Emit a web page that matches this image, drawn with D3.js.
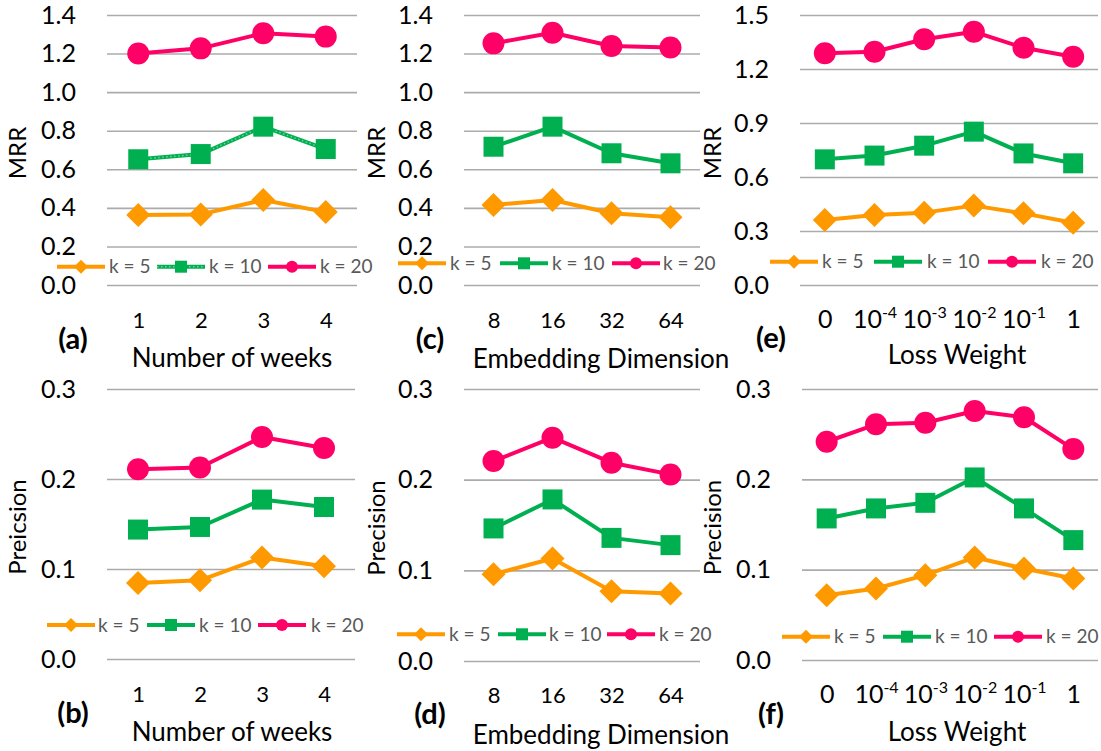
<!DOCTYPE html>
<html>
<head>
<meta charset="utf-8">
<script src="https://cdn.jsdelivr.net/npm/d3@7"></script>
<style>
  html, body { margin: 0; padding: 0; background: #ffffff; }
  svg { display: block; }
  text { font-family: Lato, "Open Sans", sans-serif; }
</style>
</head>
<body>
<svg id="chart" width="1101" height="751"></svg>
<script>
// ---------------- DATA ----------------
const weekCategories = ["1", "2", "3", "4"];
const dimCategories = ["8", "16", "32", "64"];
const lossCategories = ["0", "10^-4", "10^-3", "10^-2", "10^-1", "1"];
const seriesNames = ["k = 5", "k = 10", "k = 20"];

const mrrTicks = [0.0, 0.2, 0.4, 0.6, 0.8, 1.0, 1.2, 1.4];
const mrrLossTicks = [0.0, 0.3, 0.6, 0.9, 1.2, 1.5];
const precTicks = [0.0, 0.1, 0.2, 0.3];

// (a) MRR vs number of weeks
const mrrWeeksK5  = [0.363, 0.366, 0.441, 0.378];
const mrrWeeksK10 = [0.652, 0.679, 0.821, 0.705];
const mrrWeeksK20 = [1.200, 1.227, 1.305, 1.288];
// (c) MRR vs embedding dimension
const mrrDimK5  = [0.415, 0.441, 0.372, 0.351];
const mrrDimK10 = [0.717, 0.821, 0.683, 0.631];
const mrrDimK20 = [1.253, 1.308, 1.239, 1.231];
// (e) MRR vs loss weight
const mrrLossK5  = [0.361, 0.389, 0.402, 0.441, 0.398, 0.346];
const mrrLossK10 = [0.698, 0.719, 0.774, 0.852, 0.731, 0.676];
const mrrLossK20 = [1.287, 1.296, 1.365, 1.407, 1.318, 1.268];
// (b) Precision vs number of weeks
const precWeeksK5  = [0.0845, 0.0874, 0.1127, 0.1030];
const precWeeksK10 = [0.1438, 0.1467, 0.1771, 0.1689];
const precWeeksK20 = [0.2108, 0.2127, 0.2467, 0.2345];
// (d) Precision vs embedding dimension
const precDimK5  = [0.0957, 0.1131, 0.0770, 0.0744];
const precDimK10 = [0.1462, 0.1782, 0.1358, 0.1278];
const precDimK20 = [0.2205, 0.2463, 0.2187, 0.2058];
// (f) Precision vs loss weight
const precLossK5  = [0.0717, 0.0791, 0.0939, 0.1135, 0.1013, 0.0902];
const precLossK10 = [0.1567, 0.1678, 0.1740, 0.2021, 0.1678, 0.1327];
const precLossK20 = [0.2416, 0.2609, 0.2627, 0.2757, 0.2687, 0.2335];

// ---------------- STYLE ----------------
const colors = ["#FF9900", "#00B050", "#FF0066"];
const shapes = ["diamond", "square", "circle"];
const gridColor = "#ABABAB";

const panels = [
  { tag: "(a)", cats: weekCategories, series: [mrrWeeksK5, mrrWeeksK10, mrrWeeksK20], ticks: mrrTicks,
    yLabel: "MRR", xTitle: "Number of weeks", dottedGreen: true,
    x0: 107, x1: 357, y0: 15, y1: 285, yLabX: 18, xTickY: 328, xTickSize: 22,
    tagX: 73, tagY: 349, titleX: 232, titleY: 367,
    legY: 266.7, legX: [57, 157, 268], legTX: [109, 209, 320] },
  { tag: "(c)", cats: dimCategories, series: [mrrDimK5, mrrDimK10, mrrDimK20], ticks: mrrTicks,
    yLabel: "MRR", xTitle: "Embedding Dimension",
    x0: 464, x1: 700, y0: 15, y1: 285, yLabX: 377, xTickY: 328, xTickSize: 22,
    tagX: 430, tagY: 349, titleX: 601, titleY: 368,
    legY: 263.3, legX: [398, 500, 612], legTX: [450, 552, 663] },
  { tag: "(e)", cats: lossCategories, series: [mrrLossK5, mrrLossK10, mrrLossK20], ticks: mrrLossTicks,
    yLabel: "MRR", xTitle: "Loss Weight",
    x0: 800, x1: 1098, y0: 15, y1: 285, yLabX: 713, xTickY: 328, xTickSize: 25,
    tagX: 771, tagY: 348, titleX: 957, titleY: 364,
    legY: 261.7, legX: [770, 874, 988], legTX: [822, 927, 1041] },
  { tag: "(b)", cats: weekCategories, series: [precWeeksK5, precWeeksK10, precWeeksK20], ticks: precTicks,
    yLabel: "Preicsion", xTitle: "Number of weeks",
    x0: 107, x1: 355, y0: 389, y1: 659, yLabX: 18, xTickY: 702, xTickSize: 22,
    tagX: 73, tagY: 723, titleX: 232, titleY: 741,
    legY: 625, legX: [47, 147, 258], legTX: [98, 199, 311] },
  { tag: "(d)", cats: dimCategories, series: [precDimK5, precDimK10, precDimK20], ticks: precTicks,
    yLabel: "Precision", xTitle: "Embedding Dimension",
    x0: 464, x1: 700, y0: 389, y1: 661, yLabX: 377, xTickY: 703, xTickSize: 22,
    tagX: 430, tagY: 724, titleX: 601, titleY: 744,
    legY: 634.3, legX: [397, 498, 607], legTX: [449, 549, 659] },
  { tag: "(f)", cats: lossCategories, series: [precLossK5, precLossK10, precLossK20], ticks: precTicks,
    yLabel: "Precision", xTitle: "Loss Weight",
    x0: 802, x1: 1098, y0: 389, y1: 660, yLabX: 713, xTickY: 703, xTickSize: 25,
    tagX: 771, tagY: 724, titleX: 957, titleY: 741,
    legY: 636.7, legX: [782, 883, 994], legTX: [834, 935, 1046] }
];

const svg = d3.select("#chart");

function markerPath(shape, s) {
  if (shape === "circle") return d3.symbol().type(d3.symbolCircle).size(Math.PI * s * s)();
  if (shape === "square") return `M${-s},${-s}H${s}V${s}H${-s}Z`;
  return `M0,${-s}L${s},0L0,${s}L${-s},0Z`;
}

function renderTickLabel(sel, label) {
  sel.text(null);
  const parts = label.split("^");
  sel.append("tspan").text(parts[0]);
  if (parts.length > 1) {
    sel.append("tspan").attr("font-size", "16px").attr("dy", "-10").text(parts[1]);
  }
}

panels.forEach(p => {
  const g = svg.append("g");
  const x = d3.scalePoint().domain(p.cats).range([p.x0, p.x1]).padding(0.5);
  const yMax = p.ticks[p.ticks.length - 1];
  const y = d3.scaleLinear().domain([0, yMax]).range([p.y1, p.y0]);

  // Y axis with gridlines
  const fmt = d3.format(".1f");
  const yAxis = g.append("g")
    .attr("transform", `translate(${p.x0},0)`)
    .call(d3.axisLeft(y).tickValues(p.ticks).tickSize(-(p.x1 - p.x0)).tickPadding(31).tickFormat(fmt));
  yAxis.attr("font-size", null).attr("font-family", null);
  yAxis.select(".domain").remove();
  yAxis.selectAll(".tick line").attr("stroke", gridColor).attr("stroke-width", 1.6);
  yAxis.selectAll(".tick text")
    .style("font-size", "25px").attr("fill", "#000").style("font-family", "Lato, sans-serif");

  // X axis labels
  const xAxis = g.append("g")
    .attr("transform", `translate(0,${p.xTickY})`)
    .call(d3.axisBottom(x).tickSize(0).tickPadding(0));
  xAxis.attr("font-size", null).attr("font-family", null);
  xAxis.select(".domain").remove();
  xAxis.selectAll(".tick text")
    .attr("y", 0).attr("dy", 0)
    .style("font-size", p.xTickSize + "px").attr("fill", "#000").style("font-family", "Lato, sans-serif")
    .each(function(d) { renderTickLabel(d3.select(this), d); });

  // Series
  const line = d3.line().x((d, i) => x(p.cats[i])).y(d => y(d));
  p.series.forEach((vals, si) => {
    g.append("path").datum(vals)
      .attr("d", line).attr("fill", "none")
      .attr("stroke", colors[si]).attr("stroke-width", 4)
      .attr("stroke-linejoin", "round");
    if (p.dottedGreen && si === 1) {
      g.append("path").datum(vals)
        .attr("d", line).attr("fill", "none")
        .attr("stroke", "#8fdcb0").attr("stroke-width", 1.4)
        .attr("stroke-dasharray", "1.5 2.5").attr("opacity", 0.8);
    }
    const size = shapes[si] === "circle" ? 11 : (shapes[si] === "square" ? 10 : 12);
    g.selectAll(null).data(vals).enter().append("path")
      .attr("transform", (d, i) => `translate(${x(p.cats[i])},${y(d)})`)
      .attr("d", markerPath(shapes[si], size))
      .attr("fill", colors[si]);
  });

  // Legend
  seriesNames.forEach((name, si) => {
    const lx = p.legX[si];
    g.append("line")
      .attr("x1", lx).attr("x2", lx + 48).attr("y1", p.legY).attr("y2", p.legY)
      .attr("stroke", colors[si]).attr("stroke-width", 4);
    if (p.dottedGreen && si === 1) {
      g.append("line")
        .attr("x1", lx).attr("x2", lx + 48).attr("y1", p.legY).attr("y2", p.legY)
        .attr("stroke", "#8fdcb0").attr("stroke-width", 1.4)
        .attr("stroke-dasharray", "1.5 2.5").attr("opacity", 0.8);
    }
    const ms = shapes[si] === "circle" ? 6 : (shapes[si] === "square" ? 6 : 7);
    g.append("path")
      .attr("transform", `translate(${lx + 24},${p.legY})`)
      .attr("d", markerPath(shapes[si], ms))
      .attr("fill", colors[si]);
    g.append("text")
      .attr("x", p.legTX[si]).attr("y", p.legY).attr("dy", "0.35em")
      .attr("font-size", "19px").attr("fill", "#595959")
      .text(name);
  });

  // Y label
  g.append("text")
    .attr("transform", `translate(${p.yLabX},${(p.y0 + p.y1) / 2 + 3}) rotate(-90)`)
    .attr("text-anchor", "middle").attr("dy", "0.35em")
    .attr("font-size", "24px").attr("fill", "#000")
    .text(p.yLabel);

  // Panel tag
  g.append("text")
    .attr("x", p.tagX).attr("y", p.tagY)
    .attr("text-anchor", "middle")
    .attr("font-size", "29px").attr("font-weight", "bold").attr("fill", "#000")
    .text(p.tag);

  // X title
  g.append("text")
    .attr("x", p.titleX).attr("y", p.titleY)
    .attr("text-anchor", "middle")
    .attr("font-size", "26px").attr("fill", "#000")
    .text(p.xTitle);
});
</script>
</body>
</html>
